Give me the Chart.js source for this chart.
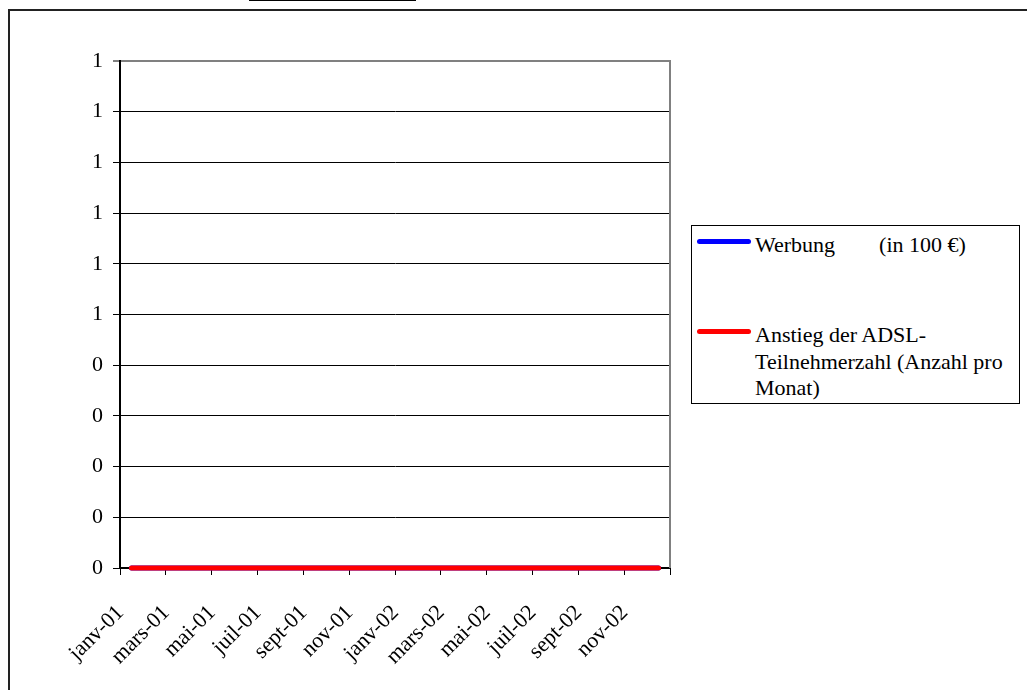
<!DOCTYPE html>
<html lang="de">
<head>
<meta charset="utf-8">
<title>Werbung und ADSL-Teilnehmer</title>
<script src="https://cdn.jsdelivr.net/npm/chart.js@4/dist/chart.umd.min.js"></script>
<style>
  html, body { margin: 0; padding: 0; background: #fff; }
  #wrap { position: relative; width: 1027px; height: 690px; overflow: hidden; }
  #frame { position: absolute; left: 8px; top: 9px; width: 1100px; height: 800px;
           border-left: 2px solid #222; border-top: 2px solid #222; }
  #tab { position: absolute; left: 249px; top: 0; width: 167px; height: 1px; background: #000; }
  #chart { position: absolute; left: 0; top: 0; }
  #legend { position: absolute; left: 691px; top: 225px; width: 327px; height: 177px;
            border: 1px solid #000; background: #fff;
            font-family: 'Liberation Serif', 'Times New Roman', serif; font-size: 22px;
            line-height: 26.7px; color: #000; }
  .item { position: absolute; left: 0; }
  .swatch { position: absolute; left: 5px; width: 54px; height: 5px; border-radius: 3px; }
  .label { position: absolute; left: 63px; width: 262px; white-space: pre-wrap; }
</style>
</head>
<body>
<div id="wrap">
  <div id="frame"></div>
  <div id="tab"></div>
  <canvas id="chart" width="1027" height="690"></canvas>
  <div id="legend"></div>
</div>
<script>
// Months, Jan 2001 – Dec 2002
const months = [
  'janv-01', 'févr-01', 'mars-01', 'avr-01', 'mai-01', 'juin-01',
  'juil-01', 'août-01', 'sept-01', 'oct-01', 'nov-01', 'déc-01',
  'janv-02', 'févr-02', 'mars-02', 'avr-02', 'mai-02', 'juin-02',
  'juil-02', 'août-02', 'sept-02', 'oct-02', 'nov-02', 'déc-02'
];

// Advertising spend (in 100 €) per month
const werbung = [0, 0, 0, 0, 0, 0, 0, 0, 0, 0, 0, 0,
                 0, 0, 0, 0, 0, 0, 0, 0, 0, 0, 0, 0];

// Monthly increase in ADSL subscribers
const adslAnstieg = [0, 0, 0, 0, 0, 0, 0, 0, 0, 0, 0, 0,
                     0, 0, 0, 0, 0, 0, 0, 0, 0, 0, 0, 0];

const seriesLabels = [
  'Werbung        (in 100 €)',
  'Anstieg der ADSL-Teilnehmerzahl (Anzahl pro Monat)'
];

// Value axis: 0 to 1 in steps of 0.1, shown without decimals
const yMin = 0, yMax = 1, yStep = 0.1;

const serif = "'Liberation Serif', 'Times New Roman', serif";
const tickFont = { family: serif, size: 22 };

// Grey right-hand edge of the plot area
const plotFrame = {
  id: 'plotFrame',
  beforeDatasetsDraw(chart) {
    const { ctx, chartArea: a } = chart;
    ctx.save();
    ctx.strokeStyle = '#808080';
    ctx.lineWidth = 2;
    ctx.beginPath();
    ctx.moveTo(a.right, a.top - 1);
    ctx.lineTo(a.right, a.bottom);
    ctx.stroke();
    ctx.restore();
  }
};

const chart = new Chart(document.getElementById('chart'), {
  type: 'line',
  data: {
    labels: months,
    datasets: [
      {
        label: seriesLabels[0],
        data: werbung,
        borderColor: '#0000ff',
        backgroundColor: '#0000ff',
        borderWidth: 5,
        borderCapStyle: 'round',
        pointRadius: 0,
        clip: false,
        order: 1
      },
      {
        label: seriesLabels[1],
        data: adslAnstieg,
        borderColor: '#ff0000',
        backgroundColor: '#ff0000',
        borderWidth: 5,
        borderCapStyle: 'round',
        pointRadius: 0,
        clip: false,
        order: 0
      }
    ]
  },
  options: {
    responsive: false,
    animation: false,
    layout: { padding: { left: 0, top: 61, right: 357, bottom: 0 } },
    plugins: {
      legend: { display: false },
      tooltip: { enabled: false }
    },
    scales: {
      x: {
        offset: true,
        grid: {
          offset: true,
          drawOnChartArea: false,
          drawTicks: true,
          tickLength: 7,
          lineWidth: 1,
          color: ctx => (ctx.index === undefined || ctx.index % 2 === 0) ? '#000' : 'rgba(0,0,0,0)',
          tickColor: ctx => (ctx.index === undefined || ctx.index % 2 === 0) ? '#000' : 'rgba(0,0,0,0)'
        },
        border: { color: '#000', width: 2 },
        ticks: {
          autoSkip: false,
          maxRotation: 45,
          minRotation: 45,
          padding: 25,
          labelOffset: -11,
          color: '#000',
          font: tickFont,
          callback: (v, i) => (i % 2 === 0 ? months[i] : '')
        },
        afterFit: s => { s.height = 122; }
      },
      y: {
        min: yMin,
        max: yMax,
        grid: {
          drawTicks: true,
          tickLength: 7,
          color: ctx => (ctx.tick && ctx.tick.value >= yMax - 1e-9) ? '#808080' : '#000',
          lineWidth: ctx => (ctx.tick && ctx.tick.value >= yMax - 1e-9) ? 2 : 1,
          tickColor: '#000',
          tickWidth: 1
        },
        border: { color: '#000', width: 2 },
        ticks: {
          stepSize: yStep,
          padding: 10,
          color: '#000',
          font: tickFont,
          callback: v => String(Math.round(v + 1e-9))
        },
        afterFit: s => { s.width = 120; }
      }
    }
  },
  plugins: [plotFrame]
});

// Legend box built from the datasets
const legend = document.getElementById('legend');
const itemTops = [6, 96];
chart.data.datasets.forEach((ds, i) => {
  const item = document.createElement('div');
  item.className = 'item';
  item.style.top = itemTops[i] + 'px';
  const sw = document.createElement('div');
  sw.className = 'swatch';
  sw.style.top = '6.5px';
  sw.style.background = ds.borderColor;
  const lab = document.createElement('div');
  lab.className = 'label';
  lab.textContent = ds.label;
  item.appendChild(sw);
  item.appendChild(lab);
  legend.appendChild(item);
});
</script>
</body>
</html>
